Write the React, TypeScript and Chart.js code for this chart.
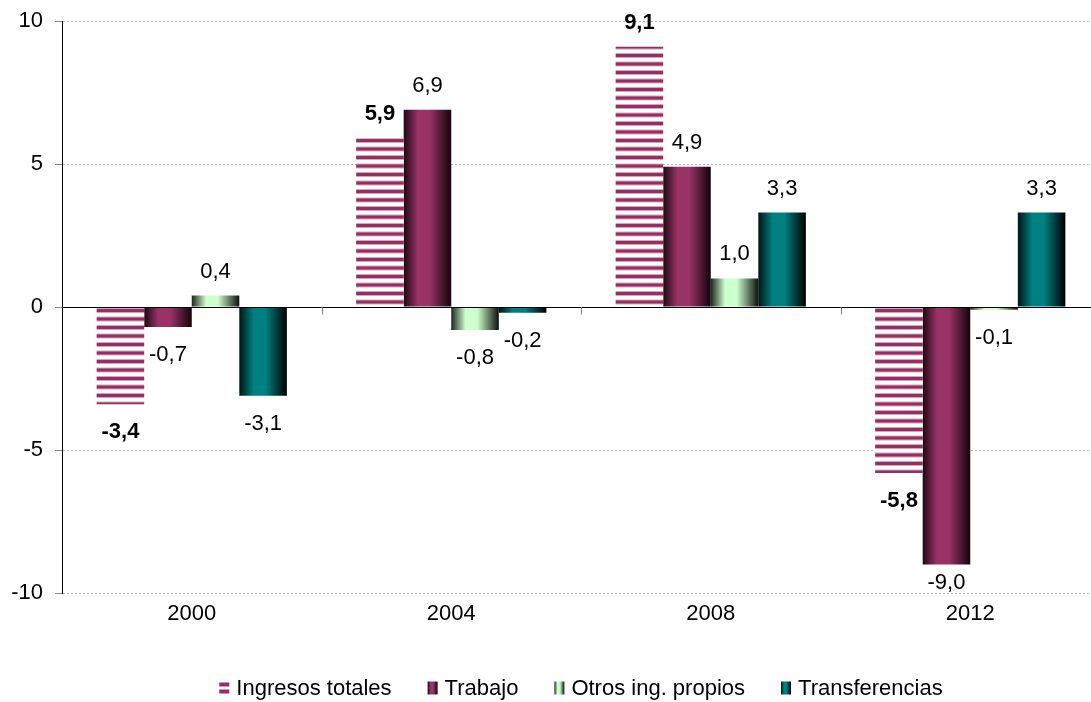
import React, { useEffect, useRef } from "react";
import { Chart, registerables } from "chart.js";

Chart.register(...registerables);

const categories = ["2000", "2004", "2008", "2012"];
const seriesLabels = ["Ingresos totales", "Trabajo", "Otros ing. propios", "Transferencias"];
const ingresosTotales = [-3.4, 5.9, 9.1, -5.8];
const trabajo = [-0.7, 6.9, 4.9, -9.0];
const otrosIngPropios = [0.4, -0.8, 1.0, -0.1];
const transferencias = [-3.1, -0.2, 3.3, 3.3];
const yTicks = [-10, -5, 0, 5, 10];

const FONT = "'Liberation Sans', Arial, sans-serif";
const baseColors = ["#993366", "#993366", "#ccffcc", "#008080"];
const darkEdges = [
  ["#993366", "#993366"],
  ["#1e0712", "#12030a"],
  ["#1c241c", "#0c100c"],
  ["#001414", "#000000"],
];

function makeStripePattern(ctx: CanvasRenderingContext2D, offsetY: number) {
  const c = document.createElement("canvas");
  c.width = 4;
  c.height = 17;
  const p = c.getContext("2d")!;
  p.fillStyle = "#ffffff";
  p.fillRect(0, 0, 4, 17);
  for (const y0 of [0, 8.5]) {
    p.fillStyle = "#d7a3bd";
    p.fillRect(0, y0, 4, 5);
    p.fillStyle = "#952f62";
    p.fillRect(0, y0 + 1, 4, 3);
  }
  const pat = ctx.createPattern(c, "repeat")!;
  if ((pat as any).setTransform) {
    pat.setTransform(new DOMMatrix().translateSelf(0, offsetY + 1));
  }
  return pat;
}

function barGradient(ctx: CanvasRenderingContext2D, x0: number, x1: number, i: number) {
  const g = ctx.createLinearGradient(x0, 0, x1, 0);
  g.addColorStop(0, darkEdges[i][0]);
  g.addColorStop(0.3, baseColors[i]);
  g.addColorStop(0.55, baseColors[i]);
  g.addColorStop(1, darkEdges[i][1]);
  return g;
}

const fmt = (v: number) => v.toFixed(1).replace(".", ",");

const stylePlugin = {
  id: "styleBars",
  beforeDatasetsDraw(chart: any) {
    const ctx = chart.ctx as CanvasRenderingContext2D;
    const zeroY = chart.scales.y.getPixelForValue(0);
    chart.data.datasets.forEach((_: any, di: number) => {
      const meta = chart.getDatasetMeta(di);
      meta.data.forEach((el: any) => {
        const { x, width } = el.getProps(["x", "width"], true);
        el.options.backgroundColor =
          di === 0 ? makeStripePattern(ctx, zeroY) : barGradient(ctx, x - width / 2, x + width / 2, di);
      });
    });
  },
  afterDatasetsDraw(chart: any) {
    const ctx = chart.ctx as CanvasRenderingContext2D;
    const area = chart.chartArea;
    const y = chart.scales.y;
    const xs = chart.scales.x;
    const zeroY = Math.round(y.getPixelForValue(0)) + 0.5;
    ctx.save();
    ctx.strokeStyle = "#000";
    ctx.lineWidth = 1;
    ctx.beginPath();
    ctx.moveTo(area.left, zeroY);
    ctx.lineTo(area.right, zeroY);
    ctx.stroke();
    ctx.strokeStyle = "#808080";
    for (let i = 1; i < categories.length; i++) {
      const bx = Math.round((xs.getPixelForValue(i - 1) + xs.getPixelForValue(i)) / 2) + 0.5;
      ctx.beginPath();
      ctx.moveTo(bx, zeroY);
      ctx.lineTo(bx, zeroY + 7);
      ctx.stroke();
    }
    ctx.textAlign = "center";
    ctx.textBaseline = "middle";
    ctx.fillStyle = "#000";
    chart.data.datasets.forEach((ds: any, di: number) => {
      const meta = chart.getDatasetMeta(di);
      ctx.font = (di === 0 ? "bold " : "") + "22px " + FONT;
      meta.data.forEach((el: any, i: number) => {
        const v = ds.data[i];
        const { x, y: ty } = el.getProps(["x", "y"], true);
        let ly = v >= 0 ? ty - 24 : ty + 28;
        if (v < 0) ly = Math.min(ly, area.bottom - 10);
        ctx.fillText(fmt(v), x, ly);
      });
    });
    ctx.restore();
  },
  afterDraw(chart: any) {
    const ctx = chart.ctx as CanvasRenderingContext2D;
    const area = chart.chartArea;
    ctx.save();
    ctx.font = "22px " + FONT;
    ctx.textBaseline = "middle";
    ctx.textAlign = "left";
    const boxW = 10, boxH = 13, gap = 7, spacing = 36;
    const widths = seriesLabels.map((l) => boxW + gap + ctx.measureText(l).width);
    const total = widths.reduce((a, b) => a + b, 0) + spacing * (widths.length - 1);
    let x = (area.left + area.right) / 2 - total / 2;
    const cy = 688;
    seriesLabels.forEach((label, i) => {
      const by = cy - boxH / 2;
      if (i === 0) {
        ctx.fillStyle = "#ffffff";
        ctx.fillRect(x, by, boxW, boxH);
        ctx.fillStyle = "#952f62";
        ctx.fillRect(x, by + 1, boxW, 4);
        ctx.fillRect(x, by + 8, boxW, 4);
      } else {
        ctx.fillStyle = barGradient(ctx, x, x + boxW, i);
        ctx.fillRect(x, by, boxW, boxH);
      }
      ctx.fillStyle = "#000";
      ctx.fillText(label, x + boxW + gap, cy + 1);
      x += widths[i] + spacing;
    });
    ctx.restore();
  },
};

export default function App() {
  const ref = useRef<HTMLCanvasElement>(null);
  useEffect(() => {
    const series = [ingresosTotales, trabajo, otrosIngPropios, transferencias];
    const chart = new Chart(ref.current!, {
      type: "bar",
      data: {
        labels: categories,
        datasets: series.map((d, i) => ({
          label: seriesLabels[i],
          data: d,
          backgroundColor: () => baseColors[i],
          borderWidth: 0,
          barPercentage: 1,
          categoryPercentage: 0.733,
        })),
      },
      options: {
        responsive: false,
        animation: false,
        devicePixelRatio: 1,
        layout: { padding: { top: 21, right: 0, bottom: 0, left: 0 } },
        plugins: { legend: { display: false }, tooltip: { enabled: false } },
        scales: {
          x: {
            grid: { display: false, drawTicks: false },
            border: { display: false },
            ticks: { padding: 8, color: "#000", font: { family: FONT, size: 22 } },
            afterFit: (s: any) => {
              s.height = 109;
              s.paddingLeft = 0;
              s.paddingRight = 0;
            },
          },
          y: {
            min: -10,
            max: 10,
            afterBuildTicks: (s: any) => {
              s.ticks = yTicks.map((v) => ({ value: v }));
            },
            grid: {
              color: (c: any) => (c.tick && c.tick.value === 0 ? "rgba(0,0,0,0)" : "#b4b4b4"),
              tickColor: "#8c8c8c",
              tickLength: 7,
              tickBorderDash: [],
            },
            border: { display: true, color: "#000", width: 1, dash: [2, 2] },
            ticks: {
              padding: 12,
              color: "#000",
              font: { family: FONT, size: 22 },
              callback: (v: any) => String(v),
            },
            afterFit: (s: any) => {
              s.width = 62;
              s.paddingTop = 0;
              s.paddingBottom = 0;
            },
          },
        },
      },
      plugins: [stylePlugin],
    });
    return () => chart.destroy();
  }, []);
  return (
    <div style={{ position: "fixed", left: 0, top: 0, width: 1091, height: 702, overflow: "hidden", background: "#fff" }}>
      <canvas ref={ref} width={1100} height={702} style={{ display: "block" }} />
    </div>
  );
}
